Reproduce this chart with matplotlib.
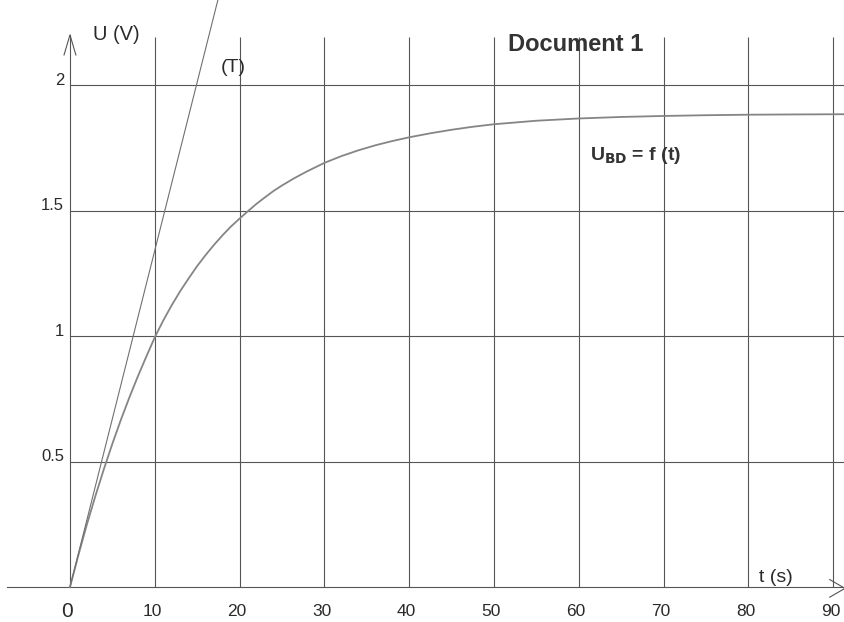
import matplotlib
matplotlib.use("Agg")
import matplotlib.pyplot as plt

# ---- data ----
t_curve = [0, 1, 2, 3, 4, 5, 6, 7, 8, 9, 10, 11, 12, 13, 14, 15, 16, 17, 18,
           19, 20, 21, 22, 23, 24, 25, 26.5, 28, 30, 32, 34, 36, 38, 40, 42.5,
           45, 47.5, 50, 55, 60, 65, 70, 75, 80, 85, 91.5]
u_curve = [0, 0.128, 0.250, 0.363, 0.470, 0.571, 0.666, 0.755, 0.839, 0.918,
           0.995, 1.062, 1.123, 1.179, 1.230, 1.279, 1.323, 1.364, 1.402,
           1.437, 1.468, 1.498, 1.527, 1.553, 1.578, 1.600, 1.630, 1.657,
           1.690, 1.717, 1.740, 1.760, 1.777, 1.792, 1.808, 1.822, 1.834,
           1.844, 1.858, 1.867, 1.873, 1.877, 1.880, 1.882, 1.883, 1.884]
t_tangent = [0, 17.6]
u_tangent = [0, 2.36]
x_ticks = [0, 10, 20, 30, 40, 50, 60, 70, 80, 90]
y_ticks = [0.5, 1, 1.5, 2]
y_tick_labels = ["0.5", "1", "1.5", "2"]

plt.rcParams['font.family'] = ['Liberation Sans', 'DejaVu Sans']

fig = plt.figure(figsize=(8.45, 6.22), dpi=100)
ax = fig.add_axes([0, 0, 1, 1])
ax.set_xlim(-8.25, 91.4)
ax.set_ylim(-0.139, 2.339)
ax.axis('off')

grid_c = '#555555'
# vertical grid lines
for t in x_ticks[1:]:
    ax.plot([t, t], [0, 2.19], color=grid_c, lw=0.8, solid_capstyle='butt')
# horizontal grid lines
for u in y_ticks:
    ax.plot([0, 91.4], [u, u], color=grid_c, lw=0.8)

# axes
ax.plot([-7.4, 91.4], [0, 0], color=grid_c, lw=0.8)
ax.plot([0, 0], [0, 2.2], color=grid_c, lw=0.8)
# arrow heads (open chevrons)
ax.plot([-0.7, 0, 0.7], [2.12, 2.2, 2.12], color=grid_c, lw=0.8)
ax.plot([89.6, 91.4, 89.6], [0.03, -0.005, -0.04], color=grid_c, lw=0.8)

# curve and tangent
ax.plot(t_curve, u_curve, color='#858585', lw=1.3)
ax.plot(t_tangent, u_tangent, color='#707070', lw=0.8)

# tick labels
txt_c = '#2a2a2a'
for t in x_ticks:
    fs = 15 if t == 0 else 12.5
    ax.text(t - 0.3, -0.096, str(t), ha='center', va='center', fontsize=fs, color=txt_c)
for u, lab in zip(y_ticks, y_tick_labels):
    ax.text(-0.7, u + 0.02, lab, ha='right', va='center', fontsize=12, color=txt_c)

ax.text(2.7, 2.2, "U (V)", ha='left', va='center', fontsize=14.5, color=txt_c)
ax.text(83.2, 0.04, "t (s)", ha='center', va='center', fontsize=14, color=txt_c)
ax.text(19.3, 2.07, "(T)", ha='center', va='center', fontsize=14, color=txt_c)
ax.text(51.6, 2.16, "Document 1", ha='left', va='center', fontsize=17,
        fontweight='bold', color='#333333')
ax.text(61.3, 1.72, r"U$_{\mathbf{BD}}$ = f (t)", ha='left', va='center', fontsize=14,
        fontweight='bold', color='#333333')

fig.savefig("out.png", dpi=100)
